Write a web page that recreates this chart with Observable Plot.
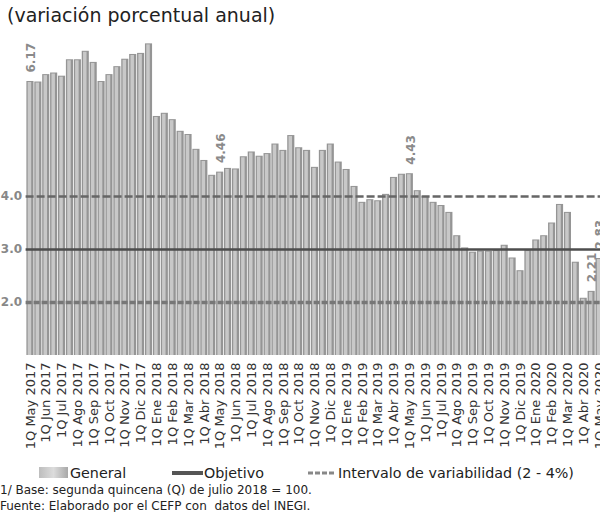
<!DOCTYPE html>
<html><head><meta charset="utf-8">
<script src="https://cdn.jsdelivr.net/npm/d3@7"></script>
<script src="https://cdn.jsdelivr.net/npm/@observablehq/plot@0.6"></script>
<style>
html,body{margin:0;padding:0;background:#fff;overflow:hidden;}
#wrap{position:relative;width:600px;height:512px;overflow:hidden;font-family:"DejaVu Sans",sans-serif;}
#title{position:absolute;left:7px;top:4px;font-size:19px;color:#222;white-space:nowrap;}
#chart{position:absolute;left:0;top:0;width:612px;}
#legend{position:absolute;left:0;top:462px;}
.note{position:absolute;left:0;font-size:12px;color:#222;white-space:nowrap;}
</style>
</head><body>
<div id="wrap">
  <div id="chart"></div>
  <div id="title">(variación porcentual anual)</div>
  <svg id="legend" width="600" height="20" font-family="DejaVu Sans" font-size="14.3" fill="#222">
    <defs><linearGradient id="g1" x1="0" x2="1"><stop offset="0" stop-color="#bdbdbd"/><stop offset="0.5" stop-color="#dcdcdc"/><stop offset="1" stop-color="#a8a8a8"/></linearGradient></defs>
    <rect x="39" y="5" width="29" height="11" fill="url(#g1)"/>
    <text x="70" y="15.5">General</text>
    <line x1="172" x2="203" y1="11" y2="11" stroke="#555" stroke-width="4"/>
    <text x="204" y="15.5">Objetivo</text>
    <line x1="308" x2="335" y1="11" y2="11" stroke="#888" stroke-width="3" stroke-dasharray="5,2"/>
    <text x="338" y="15.5">Intervalo de variabilidad (2 - 4%)</text>
  </svg>
  <div class="note" style="top:483px">1/ Base: segunda quincena (Q) de julio 2018 = 100.</div>
  <div class="note" style="top:499px">Fuente: Elaborado por el CEFP con&nbsp; datos del INEGI.</div>
</div>
<script>
const months = ["Ene","Feb","Mar","Abr","May","Jun","Jul","Ago","Sep","Oct","Nov","Dic"];
const firstMonth = 4, firstYear = 2017;
const values = [
  6.17, 6.16, 6.30, 6.33, 6.27, 6.58, 6.58, 6.74, 6.53, 6.17,
  6.30, 6.45, 6.59, 6.68, 6.70, 6.88, 5.51, 5.57, 5.45, 5.23,
  5.17, 4.89, 4.68, 4.40, 4.46, 4.53, 4.52, 4.75, 4.84, 4.76,
  4.81, 4.99, 4.87, 5.15, 4.92, 4.87, 4.55, 4.87, 4.99, 4.65,
  4.51, 4.19, 3.89, 3.94, 3.92, 4.04, 4.36, 4.42, 4.43, 4.11,
  4.00, 3.89, 3.83, 3.70, 3.26, 3.03, 2.95, 2.97, 2.97, 2.98,
  3.08, 2.84, 2.60, 2.98, 3.18, 3.26, 3.50, 3.85, 3.70, 2.76,
  2.08, 2.21, 2.83
];
const labeledQ = ["1Q May 2017", "1Q May 2018", "1Q May 2019", "2Q Abr 2020", "1Q May 2020"];
const refTicks = [2, 3, 4];
const objetivo = [3];
const intervalo = [2, 4];

const quincenas = values.map((_, i) => {
  const mi = firstMonth + Math.floor(i / 2);
  const m = months[mi % 12];
  const y = firstYear + Math.floor(mi / 12);
  return `${i % 2 === 0 ? "1Q" : "2Q"} ${m} ${y}`;
});
const data = quincenas.map((q, i) => ({q, v: values[i]}));
const labeled = data.filter(d => labeledQ.includes(d.q));

const chart = Plot.plot({
  width: 612, height: 462,
  marginTop: 37, marginBottom: 107, marginLeft: 25.6, marginRight: 8.6,
  style: {fontFamily: "DejaVu Sans", background: "transparent", overflow: "visible", maxWidth: "none"},
  x: {type: "band", domain: quincenas, paddingInner: 0.1, paddingOuter: 0.1},
  y: {domain: [1, 7]},
  marks: [
    Plot.barY(data, {x: "q", y1: 1, y2: "v", fill: "#959595"}),
    Plot.barY(data, {x: "q", y1: 1, y2: "v", fill: "#c8c8c8", insetLeft: 1.3, insetRight: 2.3, insetTop: 1}),
    Plot.ruleY([intervalo[1]], {stroke: "#666", strokeWidth: 2.5, strokeDasharray: "8,3"}),
    Plot.ruleY(objetivo, {stroke: "#4d4d4d", strokeWidth: 2.5}),
    Plot.ruleY([intervalo[0]], {stroke: "#777", strokeWidth: 3.5, strokeDasharray: "6,2"}),
    Plot.text(labeled, {x: "q", y: "v", text: d => d.v.toFixed(2), rotate: -90, textAnchor: "start", lineAnchor: "middle", dy: -9, dx: 1, fill: "#8a8a8a", fontWeight: "bold", fontSize: 12}),
    Plot.axisX({ticks: quincenas.filter(q => q.startsWith("1Q")), tickRotate: -90, tickSize: 0, tickPadding: 7, fontSize: 13, fill: "#333", color: "#333", label: null}),
    Plot.axisY({ticks: refTicks, tickFormat: d => d.toFixed(1), tickSize: 0, tickPadding: 4, fontWeight: "bold", fontSize: 12, fill: "#888", color: "#888", label: null})
  ]
});
document.getElementById("chart").appendChild(chart);
</script>
</body></html>
